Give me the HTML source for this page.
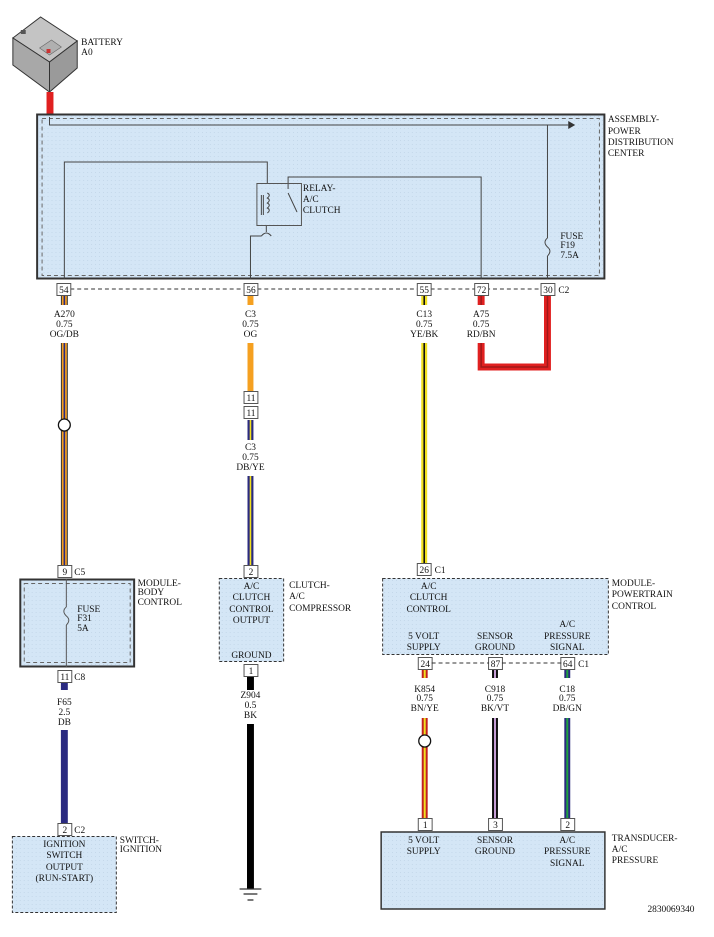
<!DOCTYPE html>
<html><head><meta charset="utf-8"><style>
html,body{margin:0;padding:0;background:#fff}
svg{display:block}
text{font-family:"Liberation Serif",serif;font-size:9.5px;fill:#111}
.m{text-anchor:middle}
</style></head><body>
<svg width="714" height="937" viewBox="0 0 714 937" xmlns="http://www.w3.org/2000/svg">
<defs>
<pattern id="dots" width="4" height="4" patternUnits="userSpaceOnUse"><rect width="4" height="4" fill="#d4e6f6"/><rect width="1" height="1" fill="#c4d8ea"/></pattern>
</defs>
<g transform="scale(0.99,1)">
<!-- battery -->
<polygon points="13,38 41,17 78,41 50,62" fill="#c4c4c4" stroke="#333"/>
<polygon points="13,38 50,62 50,92 13,65" fill="#a8a8a8" stroke="#333"/>
<polygon points="50,62 78,41 78,68 50,92" fill="#9a9a9a" stroke="#333"/>
<polygon points="40,48 52,40 62,47 50,55" fill="#b0b0b0" stroke="#666" stroke-width="0.6"/>
<rect x="47" y="49" width="4" height="4" fill="#c33"/>
<rect x="21" y="30" width="5" height="4" fill="#555"/>
<text x="82" y="45">BATTERY</text><text x="82" y="55">A0</text>
<rect x="47" y="92" width="7" height="25" fill="#e02020"/>
<!-- PDC -->
<rect x="37.5" y="114.5" width="573" height="164" fill="url(#dots)" stroke="#333" stroke-width="2"/>
<rect x="42.5" y="118.5" width="563" height="157" fill="none" stroke="#666" stroke-dasharray="4,3"/>
<text x="614" y="122">ASSEMBLY-</text><text x="614" y="134">POWER</text><text x="614" y="145">DISTRIBUTION</text><text x="614" y="156">CENTER</text>
<g stroke="#444" fill="none" stroke-width="1">
<polyline points="50,117 50,125 574,125"/>
<polyline points="553,125 553,238"/>
<path d="M553,238 q-5,4 0,9 q5,4 0,9"/>
<line x1="553" y1="256" x2="553" y2="279"/>
<polyline points="65,279 65,162 270,162 270,183"/>
<polyline points="269,226 269,232 M269,240 269,254 429,254 429,279"/>
<path d="M264,236 q5,-6 10,0"/>
<polyline points="253,279 253,236 264,236 M274,236 285,236 285,226"/>
<polyline points="291,189 291,177 486,177 486,279"/>
<line x1="291" y1="193" x2="300" y2="212"/>
</g>
<polygon points="574,121 574,129 581,125" fill="#333"/>
<rect x="259.5" y="183.5" width="45" height="42" fill="none" stroke="#555"/>
<path d="M270,193 q4,2 0,5 q4,2 0,5 q4,2 0,5 q4,2 0,5" stroke="#444" fill="none"/>
<line x1="264" y1="195" x2="264" y2="215" stroke="#444"/>
<line x1="266" y1="195" x2="266" y2="215" stroke="#444"/>
<text x="306" y="191">RELAY-</text><text x="306" y="202">A/C</text><text x="306" y="213">CLUTCH</text>
<text x="566" y="239">FUSE</text><text x="566" y="248">F19</text><text x="566" y="258">7.5A</text>
<!-- C2 connector row -->
<line x1="71" y1="289" x2="548" y2="289" stroke="#333" stroke-dasharray="4,3"/>
<g fill="#fff" stroke="#555">
<rect x="57.5" y="283.5" width="14" height="12"/><rect x="246.5" y="283.5" width="14" height="12"/>
<rect x="421.5" y="283.5" width="14" height="12"/><rect x="479.5" y="283.5" width="14" height="12"/>
<rect x="546.5" y="283.5" width="14" height="12"/>
</g>
<g font-size="9"><text class="m" x="64.5" y="293">54</text><text class="m" x="253.5" y="293">56</text><text class="m" x="428.5" y="293">55</text><text class="m" x="486.5" y="293">72</text><text class="m" x="553.5" y="293">30</text></g>
<text x="564" y="293">C2</text>
<!-- wires -->
<g stroke-linecap="butt" fill="none">
<path d="M65,296 V305 M65,343 V565" stroke="#333" stroke-width="7"/>
<path d="M65,296 V305 M65,343 V565" stroke="#f5a020" stroke-width="5"/>
<path d="M65,296 V305 M65,343 V565" stroke="#2a2a80" stroke-width="1.6"/>
<path d="M253,296 V305 M253,343 V391" stroke="#f5a020" stroke-width="6"/>
<path d="M253,420 V440 M253,476 V565" stroke="#2a2a80" stroke-width="6"/>
<path d="M253,420 V440 M253,476 V565" stroke="#f0e020" stroke-width="1.6"/>
<path d="M428.5,296 V305 M428.5,343 V563" stroke="#f0e020" stroke-width="6"/>
<path d="M428.5,296 V305 M428.5,343 V563" stroke="#111" stroke-width="1.6"/>
<path d="M486,296 V305 M486,343 V367 H553 V296" stroke="#e02020" stroke-width="7"/>
<path d="M486,296 V305 M486,343 V367 H553 V296" stroke="#a01818" stroke-width="1.5"/>
<path d="M65,682 V690 M65,730 V824" stroke="#2a2a80" stroke-width="7"/>
<path d="M253,676 V690 M253,724 V889" stroke="#000" stroke-width="7"/>
<path d="M429,669 V678 M429,718 V818" stroke="#c02020" stroke-width="6"/>
<path d="M429,669 V678 M429,718 V818" stroke="#f0e020" stroke-width="2"/>
<path d="M500,669 V678 M500,718 V818" stroke="#111" stroke-width="6"/>
<path d="M500,669 V678 M500,718 V818" stroke="#c8a0d8" stroke-width="2"/>
<path d="M573,669 V678 M573,718 V818" stroke="#2a2a80" stroke-width="6"/>
<path d="M573,669 V678 M573,718 V818" stroke="#20a040" stroke-width="2"/>
</g>
<circle cx="65" cy="425" r="6" fill="#fff" stroke="#111" stroke-width="1.3"/>
<circle cx="429" cy="741" r="6" fill="#fff" stroke="#111" stroke-width="1.3"/>
<!-- wire labels -->
<text class="m" x="65" y="317">A270</text><text class="m" x="65" y="327">0.75</text><text class="m" x="65" y="337">OG/DB</text>
<text class="m" x="253" y="317">C3</text><text class="m" x="253" y="327">0.75</text><text class="m" x="253" y="337">OG</text>
<text class="m" x="428.5" y="317">C13</text><text class="m" x="428.5" y="327">0.75</text><text class="m" x="428.5" y="337">YE/BK</text>
<text class="m" x="486" y="317">A75</text><text class="m" x="486" y="327">0.75</text><text class="m" x="486" y="337">RD/BN</text>
<text class="m" x="253" y="450">C3</text><text class="m" x="253" y="460">0.75</text><text class="m" x="253" y="470">DB/YE</text>
<text class="m" x="65" y="705">F65</text><text class="m" x="65" y="715">2.5</text><text class="m" x="65" y="725">DB</text>
<text class="m" x="253" y="698">Z904</text><text class="m" x="253" y="708">0.5</text><text class="m" x="253" y="718">BK</text>
<text class="m" x="429" y="692">K854</text><text class="m" x="429" y="701">0.75</text><text class="m" x="429" y="711">BN/YE</text>
<text class="m" x="500" y="692">C918</text><text class="m" x="500" y="701">0.75</text><text class="m" x="500" y="711">BK/VT</text>
<text class="m" x="573" y="692">C18</text><text class="m" x="573" y="701">0.75</text><text class="m" x="573" y="711">DB/GN</text>
<g fill="#fff" stroke="#555">
<rect x="246.5" y="391.5" width="14" height="12"/><rect x="246.5" y="406.5" width="14" height="12"/>
<rect x="58.5" y="565.5" width="14" height="12"/><rect x="58.5" y="670.5" width="14" height="12"/><rect x="58.5" y="823.5" width="14" height="12"/>
<rect x="246.5" y="565.5" width="14" height="12"/><rect x="246.5" y="664.5" width="14" height="12"/>
<rect x="421.5" y="563.5" width="14" height="12"/>
<rect x="422.5" y="657.5" width="14" height="12"/><rect x="493.5" y="657.5" width="14" height="12"/><rect x="566.5" y="657.5" width="14" height="12"/>
<rect x="422.5" y="818.5" width="14" height="12"/><rect x="493.5" y="818.5" width="14" height="12"/><rect x="566.5" y="818.5" width="14" height="12"/>
</g>
<g font-size="9">
<text class="m" x="253.5" y="401">11</text><text class="m" x="253.5" y="416">11</text>
<text class="m" x="65.5" y="575">9</text><text x="75" y="575">C5</text>
<text class="m" x="65.5" y="680">11</text><text x="75" y="680">C8</text>
<text class="m" x="65.5" y="833">2</text><text x="75" y="833">C2</text>
<text class="m" x="253.5" y="575">2</text><text class="m" x="253.5" y="674">1</text>
<text class="m" x="428.5" y="573">26</text><text x="439" y="573">C1</text>
<text class="m" x="429.5" y="667">24</text><text class="m" x="500.5" y="667">87</text><text class="m" x="573.5" y="667">64</text><text x="584" y="667">C1</text>
<text class="m" x="429.5" y="828">1</text><text class="m" x="500.5" y="828">3</text><text class="m" x="573.5" y="828">2</text>
</g>
<line x1="436" y1="663" x2="494" y2="663" stroke="#333" stroke-dasharray="4,3"/>
<line x1="507" y1="663" x2="567" y2="663" stroke="#333" stroke-dasharray="4,3"/>
<!-- BCM -->
<rect x="20.5" y="579.5" width="115" height="87" fill="url(#dots)" stroke="#333" stroke-width="2"/>
<rect x="24.5" y="583.5" width="107" height="79" fill="none" stroke="#666" stroke-dasharray="4,3"/>
<line x1="67" y1="579" x2="67" y2="607" stroke="#555"/>
<path d="M67,607 q-5,4 0,9 q5,4 0,9" stroke="#555" fill="none"/>
<line x1="67" y1="625" x2="67" y2="667" stroke="#555"/>
<text x="78" y="612">FUSE</text><text x="78" y="621">F31</text><text x="78" y="631">5A</text>
<text x="139" y="586">MODULE-</text><text x="139" y="595">BODY</text><text x="139" y="605">CONTROL</text>
<!-- Switch -->
<rect x="12.5" y="836.5" width="105" height="76" fill="url(#dots)" stroke="#333" stroke-dasharray="3,2"/>
<text class="m" x="65" y="847">IGNITION</text><text class="m" x="65" y="858">SWITCH</text><text class="m" x="65" y="870">OUTPUT</text><text class="m" x="65" y="881">(RUN-START)</text>
<text x="121" y="843">SWITCH-</text><text x="121" y="852">IGNITION</text>
<!-- Clutch -->
<rect x="221.5" y="578.5" width="65" height="83" fill="url(#dots)" stroke="#333" stroke-dasharray="3,2"/>
<text class="m" x="254" y="589">A/C</text><text class="m" x="254" y="600">CLUTCH</text><text class="m" x="254" y="612">CONTROL</text><text class="m" x="254" y="623">OUTPUT</text>
<text class="m" x="254" y="658">GROUND</text>
<text x="292" y="588">CLUTCH-</text><text x="292" y="599">A/C</text><text x="292" y="611">COMPRESSOR</text>
<g stroke="#333" stroke-width="1.3"><line x1="242" y1="889" x2="264" y2="889"/><line x1="246" y1="894" x2="260" y2="894"/><line x1="250" y1="900" x2="256" y2="900"/></g>
<!-- PCM -->
<rect x="386.5" y="578.5" width="228" height="76" fill="url(#dots)" stroke="#333" stroke-dasharray="3,2"/>
<text class="m" x="433" y="589">A/C</text><text class="m" x="433" y="600">CLUTCH</text><text class="m" x="433" y="612">CONTROL</text>
<text class="m" x="428" y="639">5 VOLT</text><text class="m" x="428" y="650">SUPPLY</text>
<text class="m" x="500" y="639">SENSOR</text><text class="m" x="500" y="650">GROUND</text>
<text class="m" x="573" y="627">A/C</text><text class="m" x="573" y="639">PRESSURE</text><text class="m" x="573" y="650">SIGNAL</text>
<text x="618" y="586">MODULE-</text><text x="618" y="597">POWERTRAIN</text><text x="618" y="609">CONTROL</text>
<!-- Transducer -->
<rect x="385" y="832" width="226" height="77" fill="url(#dots)" stroke="#333" stroke-width="1.5"/>
<text class="m" x="428" y="843">5 VOLT</text><text class="m" x="428" y="854">SUPPLY</text>
<text class="m" x="500" y="843">SENSOR</text><text class="m" x="500" y="854">GROUND</text>
<text class="m" x="573" y="843">A/C</text><text class="m" x="573" y="854">PRESSURE</text><text class="m" x="573" y="866">SIGNAL</text>
<text x="618" y="841">TRANSDUCER-</text><text x="618" y="852">A/C</text><text x="618" y="863">PRESSURE</text>
<text x="654" y="912" font-size="8">2830069340</text>
</g>
</svg>
</body></html>
